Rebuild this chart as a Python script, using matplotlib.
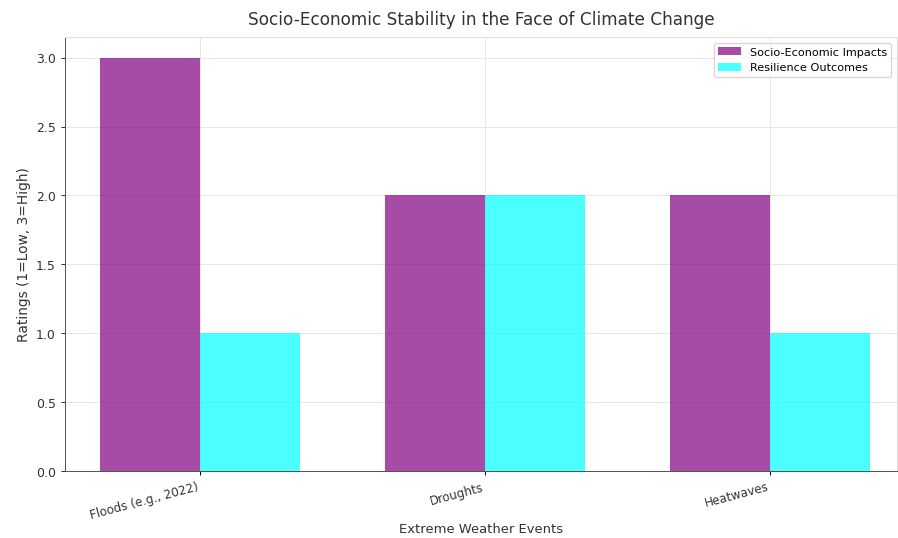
import matplotlib
matplotlib.use("Agg")
import matplotlib.pyplot as plt
import numpy as np

events = ["Floods (e.g., 2022)", "Droughts", "Heatwaves"]
impacts = [3, 2, 2]
resilience = [1, 2, 1]

x = np.arange(len(events))
width = 0.35

fig, ax = plt.subplots(figsize=(10, 6), dpi=89.8)
fig.subplots_adjust(left=0.072, right=0.999, top=0.93, bottom=0.124)

ax.bar(x - width / 2, impacts, width, label="Socio-Economic Impacts", color="purple", alpha=0.7)
ax.bar(x + width / 2, resilience, width, label="Resilience Outcomes", color="cyan", alpha=0.7)

ax.set_xlim(-0.474, 2.446)
ax.set_title("Socio-Economic Stability in the Face of Climate Change", fontsize=13.5,
             color="#333333", pad=10)
ax.set_xlabel("Extreme Weather Events", fontsize=10.5, color="#333333", labelpad=1)
ax.set_ylabel("Ratings (1=Low, 3=High)", fontsize=11, color="#333333")
ax.set_xticks(x)
ax.set_xticklabels(events, rotation=15, ha="right", fontsize=9.5, color="#333333")
ax.tick_params(axis="y", labelsize=10, colors="#333333")
ax.grid(True, color="#e6e6e6", linewidth=0.8)
ax.set_axisbelow(True)
for s in ax.spines.values():
    s.set_color("#dddddd")
ax.spines["left"].set_color("#555555")
ax.spines["bottom"].set_color("#555555")

ax.legend(loc="upper right", fontsize=9)

fig.savefig("out.png", dpi=89.8)
